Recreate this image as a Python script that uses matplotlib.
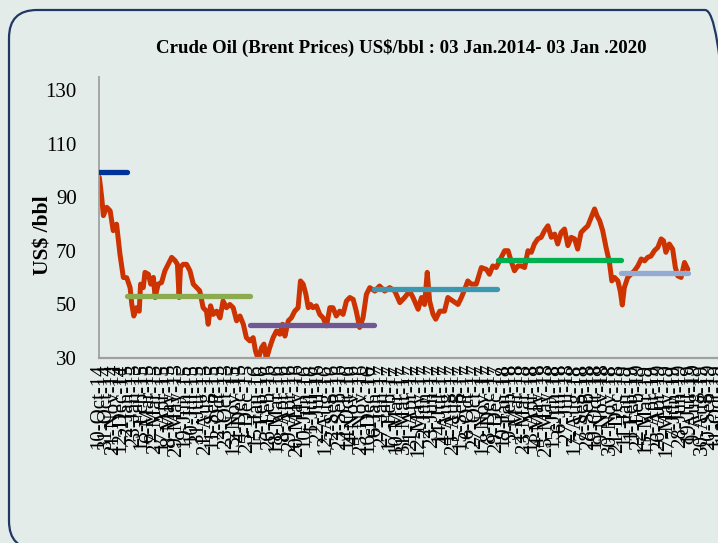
import matplotlib
matplotlib.use('Agg')
import matplotlib.pyplot as plt
from matplotlib.patches import FancyBboxPatch
import pandas as pd

BG = '#e4ecea'
SERIF = ['Liberation Serif', 'DejaVu Serif']

START = pd.Timestamp('2014-10-10')
AXIS_END = pd.Timestamp('2020-01-03')

# Brent price: days after START and US$/bbl
day_offsets = [
    1, 8, 13, 23, 33, 42, 52, 62, 72, 82, 92, 97, 103, 111, 119, 123, 131, 136,
    146, 153, 161, 166, 175, 185, 195, 205, 215, 225, 232, 237, 241, 249, 259,
    269, 279, 289, 298, 308, 318, 323, 330, 338, 348, 358, 367, 377, 387, 397,
    407, 417, 427, 436, 446, 456, 463, 471, 481, 488, 495, 505, 515, 525, 535,
    543, 550, 560, 569, 579, 589, 596, 604, 612, 619, 626, 633, 643, 653, 663,
    673, 683, 692, 702, 712, 722, 732, 742, 752, 761, 771, 781, 791, 801, 816,
    830, 845, 860, 875, 890, 904, 919, 929, 944, 954, 963, 971, 978, 988, 996,
    1008, 1022, 1032, 1047, 1062, 1072, 1082, 1091, 1101, 1116, 1131, 1146,
    1155, 1165, 1175, 1185, 1200, 1210, 1219, 1229, 1239, 1249, 1259, 1269,
    1279, 1288, 1298, 1308, 1318, 1328, 1338, 1348, 1357, 1367, 1377, 1387,
    1397, 1407, 1416, 1426, 1436, 1446, 1456, 1466, 1473, 1481, 1490, 1500,
    1510, 1517, 1525, 1535, 1542, 1548, 1554, 1564, 1574, 1584, 1594, 1604,
    1614, 1623, 1633, 1643, 1653, 1663, 1670, 1677, 1687, 1697, 1705, 1712,
    1722, 1732, 1742,
]
prices = [
    97.5, 90, 83.2, 86.3, 85, 77.6, 80, 68.8, 60.1, 60, 56.3, 50.1, 45.7, 48.8,
    47.5, 57.6, 56.3, 62, 61.3, 57.6, 60.1, 52.6, 57.6, 58.2, 62.6, 65.1, 67.6,
    66.4, 65, 52.6, 63.9, 65, 65, 62.6, 57.6, 56.3, 55.1, 48.8, 47.5, 42.6,
    49.5, 46.3, 47.5, 45, 51.3, 48.8, 50, 48.8, 43.9, 45.7, 42.6, 37.6, 36.4,
    37.6, 32.6, 29.5, 33.9, 35.2, 29.5, 33.9, 37.6, 40.1, 38.9, 42.6, 38.2,
    43.9, 45, 47.5, 48.8, 58.8, 57.6, 53.8, 48.8, 50, 48.8, 49.5, 46.3, 45, 42,
    48.8, 48.8, 45.7, 47.5, 46.3, 51.3, 52.6, 51.9, 47.5, 41.4, 45, 53.8, 56.3,
    55, 56.9, 55, 56.3, 55, 50.7, 52.6, 55, 52.6, 48.2, 52.6, 50, 62, 51.3,
    46.4, 44.5, 47.5, 47.5, 52.6, 51.3, 50, 52.6, 55.7, 58.8, 57.6, 57.6, 63.8,
    63.1, 61.3, 64.4, 63.8, 66.3, 70.1, 70.1, 66.3, 62.6, 64.4, 64.4, 63.8,
    70.1, 69.5, 72.6, 74.5, 75.1, 77.6, 79.4, 75.1, 76.3, 72.6, 76.9, 78.2, 72,
    75.1, 74.5, 70.7, 76.9, 78.2, 79.4, 82.6, 85.7, 83.2, 81.3, 77.6, 71.3,
    65.7, 58.8, 60.1, 58.8, 55, 49.8, 56.3, 60.1, 61.3, 62.6, 64.4, 67, 66.3,
    67.6, 68.1, 70.1, 71.3, 74.5, 73.8, 69.5, 72.6, 70.7, 63.8, 60.7, 60.1,
    65.7, 63.1,
]

# yearly averages and the period each one covers
avg_starts = ['2014-10-10', '2015-01-01', '2016-01-01', '2017-01-01', '2018-01-01', '2019-01-01']
avg_ends = ['2014-12-31', '2015-12-31', '2016-12-31', '2017-12-31', '2018-12-31', '2019-07-17']
avg_values = [99.5, 53.3, 42.2, 55.6, 66.7, 61.6]
avg_colors = ['#003399', '#8caa4e', '#6f5893', '#3e97b0', '#00b050', '#93aad2']

y_ticks = [30, 50, 70, 90, 110, 130]

dates = START + pd.to_timedelta(day_offsets, unit='D')
tick_dates = pd.date_range(START, AXIS_END, freq='21D')
tick_labels = [f"{d.day}-{d:%b-%y}" for d in tick_dates]

fig = plt.figure(figsize=(7.18, 5.43), dpi=100, facecolor=BG)

# rounded frame around the chart, in inches from the bottom-left corner;
# its right and bottom sides run off the picture like in the original
frame = FancyBboxPatch((0.09, -0.06), 7.24, 5.39, boxstyle='round,pad=0,rounding_size=0.28',
                       facecolor='none', edgecolor='#1f3864', linewidth=1.6,
                       transform=fig.dpi_scale_trans)
fig.add_artist(frame)

ax = fig.add_axes([99 / 718, 1 - 358 / 543, (745 - 99) / 718, (358 - 77) / 543])
ax.set_facecolor('none')

ax.plot(dates, prices, color='#cc3300', linewidth=3.6, solid_joinstyle='round',
        solid_capstyle='round', zorder=2)
for s, e, v, c in zip(avg_starts, avg_ends, avg_values, avg_colors):
    ax.plot([pd.Timestamp(s), pd.Timestamp(e)], [v, v], color=c, linewidth=3.8,
            solid_capstyle='round', zorder=3)

ax.set_xlim(START, AXIS_END)
ax.set_ylim(30, 135)
ax.set_yticks(y_ticks)
ax.set_yticklabels([str(t) for t in y_ticks], fontsize=15, family=SERIF)
ax.set_xticks(tick_dates)
ax.set_xticklabels(tick_labels, rotation=90, fontsize=15, family=SERIF, va='top')
ax.tick_params(axis='both', length=0)
ax.tick_params(axis='y', pad=16)
ax.tick_params(axis='x', pad=4)

for side in ['top', 'right']:
    ax.spines[side].set_visible(False)
ax.spines['left'].set_color('#a0a0a0')
ax.spines['left'].set_linewidth(1.3)
ax.spines['bottom'].set_color('#a0a0a0')
ax.spines['bottom'].set_linewidth(1.6)

fig.text(401 / 718, 1 - 48 / 543,
         'Crude Oil (Brent Prices) US$/bbl : 03 Jan.2014- 03 Jan .2020',
         ha='center', va='center', fontsize=13.6, fontweight='bold', family=SERIF)
fig.text(44 / 718, 1 - 235 / 543, 'US$ /bbl', rotation=90, ha='center', va='center',
         fontsize=15.5, fontweight='bold', family=SERIF)

fig.savefig('out.png', dpi=100, facecolor=BG)
